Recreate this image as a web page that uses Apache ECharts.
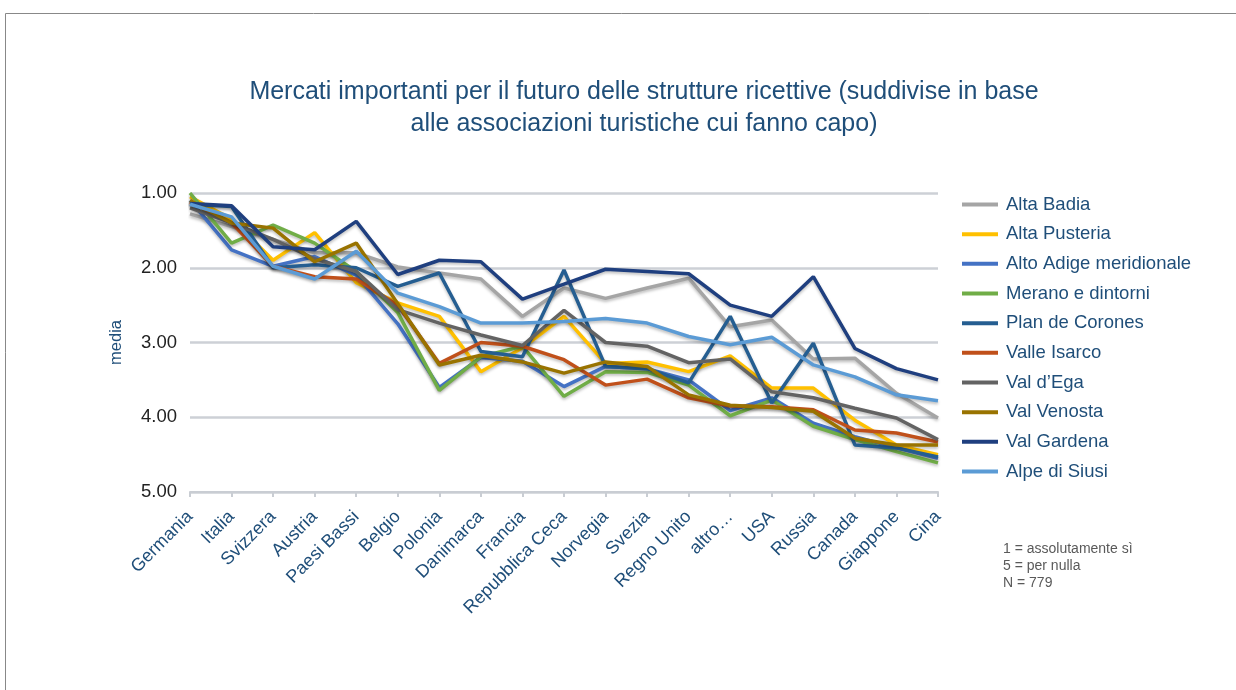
<!DOCTYPE html>
<html><head><meta charset="utf-8">
<script src="https://cdn.jsdelivr.net/npm/echarts@6/dist/echarts.min.js"></script>
<style>html,body{margin:0;padding:0;background:#fff}#c{width:1236px;height:690px}</style>
</head><body><div id="c"></div>
<script>
const categories = ['Germania','Italia','Svizzera','Austria','Paesi Bassi','Belgio','Polonia','Danimarca','Francia','Repubblica Ceca','Norvegia','Svezia','Regno Unito','altro…','USA','Russia','Canada','Giappone','Cina'];
const yTicks = [1, 2, 3, 4, 5];
const altaBadia   = [1.28,1.45,1.62,1.80,1.80,1.99,2.07,2.15,2.65,2.27,2.41,2.27,2.14,2.79,2.70,3.22,3.21,3.68,4.01];
const altaPusteria= [1.05,1.35,1.90,1.53,2.20,2.47,2.65,3.39,3.07,2.65,3.28,3.26,3.39,3.18,3.61,3.61,4.04,4.37,4.50];
const altoAdige   = [1.10,1.76,1.98,1.85,2.10,2.75,3.60,3.20,3.25,3.59,3.32,3.35,3.50,3.91,3.74,4.08,4.26,4.41,4.55];
const merano      = [1.00,1.67,1.43,1.67,2.05,2.60,3.64,3.19,3.05,3.72,3.39,3.40,3.57,3.98,3.77,4.12,4.30,4.46,4.61];
const planCorones = [1.15,1.18,2.00,1.96,2.00,2.25,2.07,3.12,3.19,2.03,3.32,3.35,3.54,2.65,3.81,3.01,4.37,4.41,4.53];
const valleIsarco = [1.12,1.40,1.98,2.12,2.15,2.50,3.28,3.00,3.05,3.23,3.57,3.49,3.74,3.85,3.86,3.90,4.17,4.21,4.33];
const valdEga     = [1.20,1.40,1.62,1.88,2.05,2.56,2.74,2.90,3.04,2.57,3.00,3.05,3.27,3.22,3.66,3.74,3.88,4.01,4.30];
const valVenosta  = [1.10,1.40,1.47,1.92,1.67,2.48,3.30,3.17,3.26,3.41,3.26,3.32,3.70,3.84,3.87,3.92,4.28,4.37,4.37];
const valGardena  = [1.14,1.17,1.72,1.76,1.38,2.09,1.90,1.92,2.42,2.22,2.02,2.05,2.08,2.50,2.65,2.12,3.08,3.35,3.50];
const alpeSiusi   = [1.15,1.32,1.98,2.15,1.78,2.34,2.52,2.74,2.74,2.72,2.68,2.74,2.92,3.03,2.93,3.30,3.46,3.70,3.78];

const seriesDefs = [
  ['Alta Badia', altaBadia, '#A5A5A5'],
  ['Alta Pusteria', altaPusteria, '#FFC000'],
  ['Alto Adige meridionale', altoAdige, '#4472C4'],
  ['Merano e dintorni', merano, '#70AD47'],
  ['Plan de Corones', planCorones, '#255E91'],
  ['Valle Isarco', valleIsarco, '#C0501A'],
  ['Val d\u2019Ega', valdEga, '#636363'],
  ['Val Venosta', valVenosta, '#997300'],
  ['Val Gardena', valGardena, '#1F3F7F'],
  ['Alpe di Siusi', alpeSiusi, '#5B9BD5']
];

const dark = '#1F4E79';
const ff = 'Liberation Sans, Arial, sans-serif';
const chart = echarts.init(document.getElementById('c'), null, {renderer: 'canvas'});
chart.setOption({
  animation: false,
  backgroundColor: '#fff',
  textStyle: {fontFamily: ff},
  title: {
    text: 'Mercati importanti per il futuro delle strutture ricettive (suddivise in base\nalle associazioni turistiche cui fanno capo)',
    left: 639, top: 71, textAlign: 'center',
    textStyle: {fontSize: 25, fontWeight: 'normal', color: dark, lineHeight: 32, fontFamily: ff}
  },
  legend: {
    orient: 'vertical', left: 957, top: 189,
    icon: 'rect', itemWidth: 36, itemHeight: 4, itemGap: 8.67,
    textStyle: {fontSize: 18.5, color: dark, lineHeight: 21, padding: [0,0,0,3], fontFamily: ff},
    data: seriesDefs.map(s => s[0])
  },
  grid: {left: 190, right: 298, top: 193, bottom: 198, containLabel: false},
  xAxis: {
    type: 'category', data: categories, boundaryGap: false,
    axisLine: {onZero: false, lineStyle: {color: '#C9CDD3', width: 2}},
    axisTick: {show: true, alignWithLabel: true, length: 5, lineStyle: {color: '#C9CDD3', width: 2}},
    axisLabel: {rotate: 45, interval: 0, fontSize: 18, color: dark, margin: 22, fontFamily: ff},
    splitLine: {show: false}
  },
  yAxis: {
    type: 'value', inverse: true, min: 1, max: 5, interval: 1,
    name: 'media', nameLocation: 'middle', nameGap: 65,
    nameTextStyle: {fontSize: 16.5, color: dark, fontFamily: ff},
    axisLine: {show: false}, axisTick: {show: false},
    axisLabel: {fontSize: 18.5, color: '#222', margin: 13, fontFamily: ff, formatter: v => yTicks.includes(v) ? v.toFixed(2) : ''},
    splitLine: {lineStyle: {color: '#CDD0D6', width: 2.5}}
  },
  series: seriesDefs.map(s => ({
    name: s[0], type: 'line', data: s[1], symbol: 'none', smooth: false,
    color: s[2],
    lineStyle: {width: 3.5, color: s[2], shadowColor: 'rgba(0,0,0,0.25)', shadowBlur: 3, shadowOffsetY: 2},
    emphasis: {disabled: true}
  })),
  graphic: [
    {type: 'rect', shape: {x: 5.5, y: 13.5, width: 1240, height: 700}, style: {fill: 'none', stroke: '#888', lineWidth: 1}, silent: true},
    {type: 'text', left: 1003, top: 541, style: {text: '1 = assolutamente sì\n5 = per nulla\nN = 779', fontSize: 14, lineHeight: 17, fill: '#595959', fontFamily: ff}}
  ]
});
</script></body></html>
